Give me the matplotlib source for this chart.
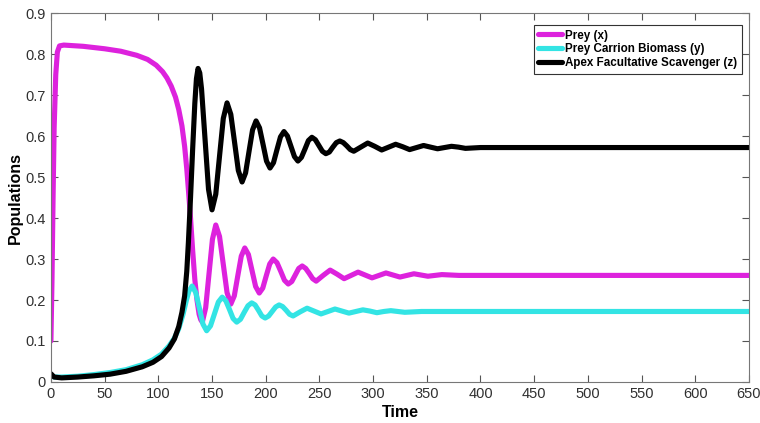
import matplotlib
matplotlib.use("Agg")
import numpy as np
from matplotlib import pyplot as plt

# values (time, population)
t_prey = [0, 1, 2, 3, 4.5, 6, 8, 12, 30, 50, 65, 80, 90, 98, 104, 108, 112, 116, 119, 122,
          124.5, 126.5, 128, 130, 132, 134, 136, 138, 139.5, 141,
          144.1, 147.25, 150.4, 153.5, 157, 160.5, 164, 167.5, 170.75, 174, 177.25, 180.5,
          183.9, 187.25, 190.6, 194, 197.25, 200.5, 203.75, 207, 210.5, 214, 217.5, 221,
          224.25, 227.5, 230.75, 234, 237.25, 240.5, 243.75, 247, 253.5, 260, 266.5, 273,
          279.5, 286, 292.5, 299, 305.5, 312, 318.5, 325, 331.5, 338, 344.5, 351, 357.5,
          364, 380, 650]
prey = [0.10, 0.25, 0.45, 0.62, 0.75, 0.805, 0.82, 0.822, 0.819, 0.813, 0.807, 0.797, 0.787,
        0.773, 0.757, 0.742, 0.722, 0.695, 0.665, 0.625, 0.575, 0.52, 0.47, 0.40, 0.32, 0.25,
        0.20, 0.165, 0.152, 0.146,
        0.181, 0.265, 0.348, 0.383, 0.355, 0.287, 0.218, 0.190, 0.210, 0.259, 0.307, 0.327,
        0.311, 0.272, 0.233, 0.217, 0.229, 0.259, 0.288, 0.300, 0.291, 0.270, 0.248, 0.239,
        0.245, 0.261, 0.277, 0.283, 0.277, 0.265, 0.252, 0.246, 0.260, 0.273, 0.263, 0.252,
        0.260, 0.268, 0.261, 0.254, 0.260, 0.266, 0.261, 0.256, 0.260, 0.264, 0.261, 0.258,
        0.260, 0.262, 0.260, 0.260]

t_carrion = [0, 3, 10, 25, 40, 55, 70, 85, 95, 103, 110, 115, 119, 123, 126, 128.5, 131.5,
             134.9, 138.25, 141.6, 145, 148.6, 152.25, 155.9, 159.5, 162.9, 166.25, 169.6,
             173, 176.5, 180, 183.5, 187, 190.1, 193.25, 196.4, 199.5, 202.75, 206, 209.25,
             212.5, 215.75, 219, 222.25, 225.5, 232, 238.5, 245, 251.5, 258, 264.5, 271,
             277.5, 284, 290.5, 297, 303.5, 310, 316.5, 323, 329.5, 345, 650]
carrion = [0.016, 0.012, 0.012, 0.014, 0.018, 0.023, 0.030, 0.042, 0.054, 0.068, 0.088, 0.107,
           0.13, 0.165, 0.198, 0.222, 0.234,
           0.218, 0.180, 0.141, 0.125, 0.137, 0.166, 0.195, 0.207, 0.198, 0.177, 0.155,
           0.146, 0.153, 0.170, 0.186, 0.193, 0.188, 0.175, 0.161, 0.156, 0.161, 0.172, 0.183,
           0.188, 0.184, 0.175, 0.165, 0.161, 0.171, 0.180, 0.173, 0.166, 0.172, 0.178, 0.173,
           0.168, 0.172, 0.176, 0.173, 0.169, 0.172, 0.174, 0.172, 0.170, 0.172, 0.172]

t_scav = [0, 3, 10, 25, 40, 55, 70, 85, 95, 103, 110, 115, 119, 122, 124.5, 126.5, 128, 130,
          132, 134, 135.5, 137, 138.6, 140.25, 143.5, 146.75, 150, 153.5, 157, 160.5, 164,
          167.5, 171, 174.5, 178, 181.25, 184.5, 187.75, 191, 194.25, 197.5, 200.75, 204,
          207.25, 210.5, 213.75, 217, 220.25, 223.5, 226.75, 230, 233.25, 236.5, 239.75, 243,
          246.25, 249.5, 252.75, 256, 259.25, 262.5, 265.75, 269, 272.25, 275.5, 278.75, 282,
          288.5, 295, 301.5, 308, 314.5, 321, 327.5, 334, 340.5, 347, 353.5, 360, 366.5, 373,
          379.5, 386, 400, 650]
scav = [0.020, 0.012, 0.010, 0.012, 0.015, 0.019, 0.026, 0.037, 0.048, 0.062, 0.083, 0.105,
        0.135, 0.17, 0.21, 0.27, 0.34, 0.45, 0.57, 0.68, 0.74, 0.765, 0.754, 0.715, 0.593,
        0.470, 0.420, 0.458, 0.551, 0.643, 0.681, 0.653, 0.585, 0.516, 0.488, 0.510, 0.563,
        0.615, 0.637, 0.620, 0.580, 0.539, 0.522, 0.535, 0.567, 0.598, 0.611, 0.600, 0.575,
        0.550, 0.539, 0.548, 0.568, 0.589, 0.597, 0.591, 0.577, 0.563, 0.557, 0.561, 0.573,
        0.584, 0.588, 0.584, 0.576, 0.567, 0.563, 0.573, 0.583, 0.575, 0.566, 0.573, 0.580,
        0.574, 0.567, 0.572, 0.577, 0.573, 0.569, 0.572, 0.575, 0.573, 0.570, 0.572, 0.572]

plt.rcParams['font.family'] = ['Liberation Sans', 'DejaVu Sans']

fig = plt.figure(figsize=(7.6, 4.23), dpi=100)
ax = fig.add_axes([0.067, 0.097, 0.9185, 0.872])

style = dict(lw=3.7, solid_joinstyle='round', solid_capstyle='round')
ax.plot(t_prey, prey, color='#dd22dd', label='Prey (x)', **style)
ax.plot(t_carrion, carrion, color='#33e4e4', label='Prey Carrion Biomass (y)', **style)
ax.plot(t_scav, scav, color='black', label='Apex Facultative Scavenger (z)', **style)

ax.set_xlim(0, 650)
ax.set_ylim(0, 0.9)
ax.set_xticks(np.arange(0, 651, 50))
ax.set_yticks(np.arange(0, 0.91, 0.1))
ax.set_yticklabels(['0'] + ['%.1f' % v for v in np.arange(0.1, 0.91, 0.1)])
ax.tick_params(direction='in', top=True, right=True, length=5, width=0.8,
               colors='#555555', labelsize=10.5, labelcolor='#303030')
for s in ax.spines.values():
    s.set_color('#777777')
    s.set_linewidth(0.8)

ax.set_xlabel('Time', fontsize=11.5, fontweight='bold', labelpad=3)
ax.set_ylabel('Populations', fontsize=11.5, fontweight='bold', labelpad=2)

leg = ax.legend(loc='upper right', bbox_to_anchor=(0.99, 0.968), borderaxespad=0,
                prop={'weight': 'bold', 'size': 8.4}, handlelength=2.0, handletextpad=0.3,
                borderpad=0.4, labelspacing=0.15, fancybox=False, framealpha=1)
leg.get_frame().set_edgecolor('#333333')
leg.get_frame().set_linewidth(0.8)

plt.savefig('out.png', dpi=100)
